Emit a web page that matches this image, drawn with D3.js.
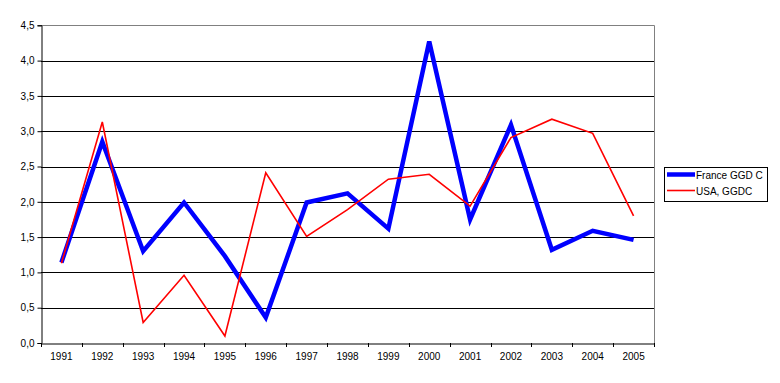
<!DOCTYPE html>
<html><head><meta charset="utf-8">
<script src="https://cdn.jsdelivr.net/npm/d3@7"></script>
<style>body{margin:0;background:#fff}svg{display:block}text{font-family:"Liberation Sans",Arial,sans-serif;font-size:10px;fill:#000}</style>
</head><body><svg id="c" width="780" height="383"></svg>
<script>
const years = ["1991","1992","1993","1994","1995","1996","1997","1998","1999","2000","2001","2002","2003","2004","2005"];
const france = [1.14,2.85,1.30,1.99,1.23,0.36,1.99,2.12,1.62,4.27,1.75,3.09,1.32,1.59,1.46];
const usa = [1.13,3.13,0.29,0.96,0.10,2.41,1.51,1.89,2.32,2.39,1.94,2.91,3.17,2.97,1.80];
const yTicks = [0,0.5,1,1.5,2,2.5,3,3.5,4,4.5];
const seriesNames = ["France GGD C","USA, GGDC"];

const svg = d3.select("#c");
const L=41, R=654, T=25.3, B=343;
const x = d3.scaleBand().domain(years).range([L,R]);
const y = d3.scaleLinear().domain([0,4.5]).range([B,T]);
const fmt = v => d3.format(".1f")(v).replace(".",",");

// gridlines
svg.append("g").selectAll("line").data(yTicks.filter(v=>v>0&&v<4.5)).join("line")
  .attr("x1",L).attr("x2",R).attr("y1",d=>Math.round(y(d))+0.5).attr("y2",d=>Math.round(y(d))+0.5)
  .attr("stroke","#000").attr("stroke-width",1);
// plot border top/right
svg.append("path").attr("d",`M${L},${Math.round(T)+0.5}H${R+0.5}V${B}`).attr("fill","none").attr("stroke","#808080");

// y axis
const ya = svg.append("g").attr("transform",`translate(${L+0.5},0)`)
  .call(d3.axisLeft(y).tickValues(yTicks).tickFormat(fmt).tickSize(4).tickPadding(3));
ya.selectAll("path,line").attr("stroke","#000");
ya.selectAll("text").style("font-size","10px").attr("font-family",null);
// x axis
const xa = svg.append("g").attr("transform",`translate(0,${B+0.5})`)
  .call(d3.axisBottom(x).tickSize(0).tickPadding(9));
xa.select(".domain").attr("stroke","#000");
xa.selectAll("text").style("font-size","10px").attr("font-family",null);
svg.append("g").selectAll("line").data(d3.range(years.length+1)).join("line")
  .attr("x1",i=>Math.round(L+i*x.step())+0.5).attr("x2",i=>Math.round(L+i*x.step())+0.5)
  .attr("y1",B).attr("y2",B+4).attr("stroke","#000");

const line = d3.line().x((d,i)=>x(years[i])+x.bandwidth()/2).y(d=>y(d));
svg.append("path").datum(france).attr("d",line).attr("fill","none").attr("stroke","#0000ff").attr("stroke-width",4.5).attr("stroke-linejoin","miter");
svg.append("path").datum(usa).attr("d",line).attr("fill","none").attr("stroke","#ff0000").attr("stroke-width",1.6);

// legend
const lg = svg.append("g");
lg.append("rect").attr("x",664.5).attr("y",167.5).attr("width",103).attr("height",34).attr("fill","#fff").attr("stroke","#000");
const cols=["#0000ff","#ff0000"], ws=[4.5,1.6];
seriesNames.forEach((n,i)=>{
  const cy = 174.5 + i*16;
  lg.append("line").attr("x1",667).attr("x2",695).attr("y1",cy).attr("y2",cy).attr("stroke",cols[i]).attr("stroke-width",ws[i]);
  lg.append("text").attr("x",696).attr("y",cy+4).text(n);
});
</script></body></html>
